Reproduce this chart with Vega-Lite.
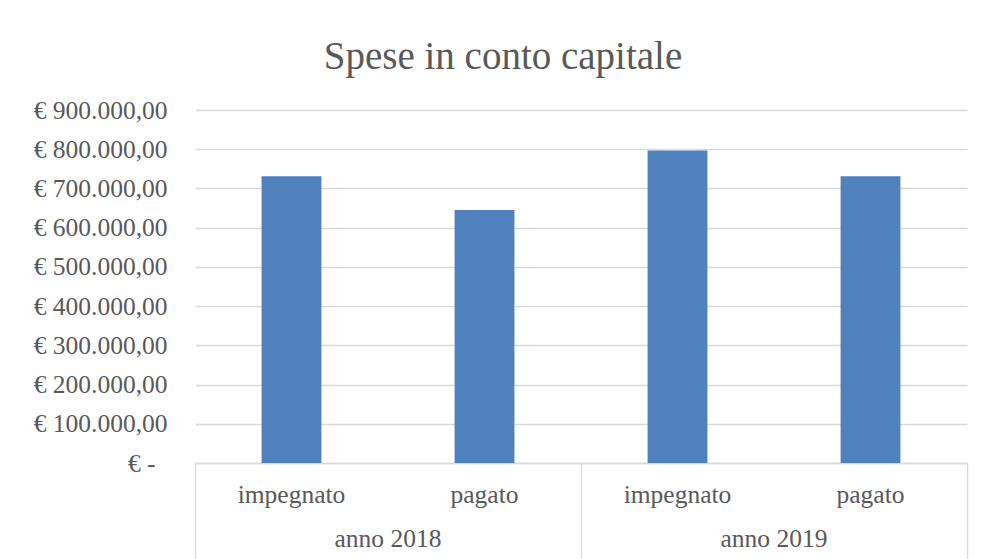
{
  "$schema": "https://vega.github.io/schema/vega-lite/v6.json",
  "width": 772,
  "height": 353,
  "autosize": {"type": "none"},
  "padding": {"left": 195, "top": 110, "right": 14, "bottom": 96},
  "background": "white",
  "config": {
    "locale": {"number": {"decimal": ",", "thousands": ".", "grouping": [3], "currency": ["€ ", ""]}},
    "view": {"stroke": null},
    "font": "Liberation Serif"
  },
  "title": {
    "text": "Spese in conto capitale",
    "font": "Liberation Serif",
    "fontSize": 39,
    "fontWeight": "normal",
    "color": "#595959",
    "anchor": "middle",
    "frame": "group",
    "baseline": "alphabetic",
    "offset": -10,
    "dx": -78
  },
  "data": {
    "values": [
      {"cat": "2018|impegnato", "anno": "anno 2018", "tipo": "impegnato", "valore": 731000},
      {"cat": "2018|pagato", "anno": "anno 2018", "tipo": "pagato", "valore": 645000},
      {"cat": "2019|impegnato", "anno": "anno 2019", "tipo": "impegnato", "valore": 797000},
      {"cat": "2019|pagato", "anno": "anno 2019", "tipo": "pagato", "valore": 731000}
    ]
  },
  "layer": [
    {
      "mark": {"type": "bar", "color": "#4F81BD", "width": {"band": 0.31}},
      "encoding": {
        "x": {
          "field": "cat", "type": "nominal", "sort": null,
          "scale": {"paddingInner": 0, "paddingOuter": 0},
          "axis": {
            "orient": "bottom",
            "title": null,
            "labelExpr": "split(datum.value, '|')[1]",
            "labelAngle": 0,
            "labelFont": "Liberation Serif",
            "labelFontSize": 25.5,
            "labelColor": "#595959",
            "labelBaseline": "alphabetic",
            "labelPadding": 39,
            "labelOverlap": false,
            "ticks": false,
            "domainColor": "#D9D9D9",
            "domainWidth": 1.3,
            "grid": false
          }
        },
        "y": {
          "field": "valore", "type": "quantitative",
          "scale": {"domain": [0, 900000], "nice": false},
          "axis": {
            "orient": "left",
            "title": null,
            "values": [0, 100000, 200000, 300000, 400000, 500000, 600000, 700000, 800000, 900000],
            "labelExpr": "datum.value == 0 ? '€ -' : '€ ' + format(datum.value, ',.2f')",
            "labelFont": "Liberation Serif",
            "labelFontSize": 25.5,
            "labelColor": "#595959",
            "labelPadding": {"condition": {"test": "datum.value == 0", "value": 40}, "value": 28},
            "labelOverlap": false,
            "domain": false,
            "ticks": false,
            "grid": true,
            "gridColor": "#D9D9D9",
            "gridWidth": 1.3
          }
        }
      }
    },
    {
      "mark": {"type": "bar", "opacity": 0, "width": {"band": 0.31}},
      "encoding": {
        "x": {
          "field": "cat", "type": "nominal", "sort": null,
          "axis": {
            "orient": "bottom",
            "title": null,
            "bandPosition": 0,
            "labelExpr": "split(datum.value, '|')[1] == 'pagato' ? (split(datum.value, '|')[0] == '2018' ? 'anno 2018' : 'anno 2019') : ''",
            "labelAngle": 0,
            "labelFont": "Liberation Serif",
            "labelFontSize": 25.5,
            "labelColor": "#595959",
            "labelBaseline": "alphabetic",
            "labelPadding": -13,
            "labelOffset": -96.5,
            "labelOverlap": false,
            "domain": false,
            "ticks": true,
            "tickSize": 96,
            "tickWidth": 1.3,
            "tickColor": {"condition": {"test": "split(datum.value, '|')[1] == 'impegnato'", "value": "#D9D9D9"}, "value": "transparent"},
            "grid": false
          }
        },
        "y": {"field": "valore", "type": "quantitative", "axis": null}
      }
    },
    {
      "mark": {"type": "bar", "opacity": 0, "width": {"band": 0.31}},
      "encoding": {
        "x": {
          "field": "cat", "type": "nominal", "sort": null,
          "axis": {
            "orient": "bottom",
            "title": null,
            "bandPosition": 1,
            "labels": false,
            "domain": false,
            "ticks": true,
            "tickSize": 96,
            "tickWidth": 1.3,
            "tickColor": {"condition": {"test": "datum.value == '2019|pagato'", "value": "#D9D9D9"}, "value": "transparent"},
            "grid": false
          }
        },
        "y": {"field": "valore", "type": "quantitative", "axis": null}
      }
    }
  ],
  "resolve": {"axis": {"x": "independent", "y": "independent"}}
}
